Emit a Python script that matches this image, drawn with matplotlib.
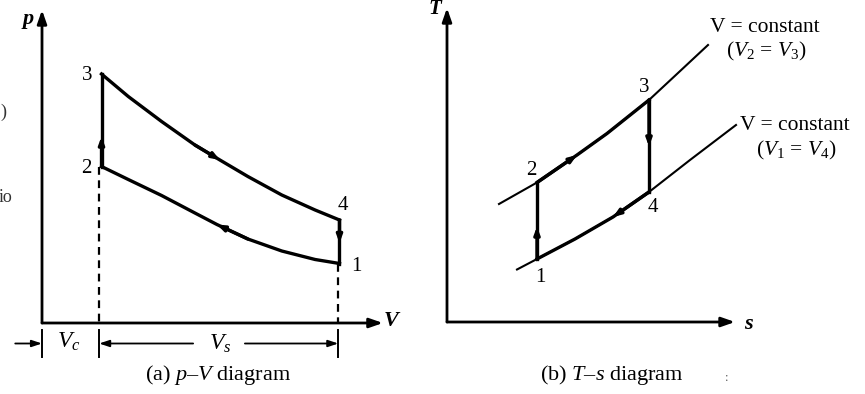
import matplotlib
matplotlib.use("Agg")
import matplotlib.pyplot as plt

plt.rcParams['font.family'] = ['Liberation Serif', 'DejaVu Serif']
plt.rcParams['mathtext.fontset'] = 'custom'
plt.rcParams['mathtext.rm'] = 'Liberation Serif'
plt.rcParams['mathtext.it'] = 'Liberation Serif:italic'
plt.rcParams['mathtext.bf'] = 'Liberation Serif:bold'

# p-V diagram (arbitrary units)
V_exp = [1.0, 1.45, 2.01, 2.57, 2.99, 3.46, 4.03, 4.59, 5.0]      # 3 -> 4
p_exp = [4.98, 4.53, 4.03, 3.56, 3.26, 2.93, 2.56, 2.26, 2.06]
V_comp = [5.0, 4.59, 4.03, 3.46, 2.94, 2.57, 2.01, 1.45, 1.0]     # 1 -> 2
p_comp = [1.19, 1.27, 1.44, 1.68, 1.97, 2.20, 2.55, 2.87, 3.13]
pv_labels = ['1', '2', '3', '4']

# T-s diagram, the two constant volume lines
s_v23 = [1.04, 1.80, 2.60, 3.20, 4.04, 4.62, 5.22]
T_v23 = [2.36, 2.79, 3.34, 3.77, 4.44, 4.98, 5.54]
s_v14 = [1.40, 1.80, 2.56, 3.32, 4.04, 4.86, 5.78]
T_v14 = [1.05, 1.26, 1.66, 2.10, 2.60, 3.24, 3.94]

# where the little arrows sit on the vertical strokes
p_arrow_23 = 3.73
p_arrow_41 = 1.60
T_arrow_12 = 1.91
T_arrow_34 = 3.51

LW = 2.4
k = 'black'

fig = plt.figure(figsize=(8.65, 3.94), dpi=100)
ax1 = fig.add_axes([0, 0, 420 / 865, 1])
ax2 = fig.add_axes([420 / 865, 0, 445 / 865, 1])
ax1.set_xlim(-0.706, 6.353)
ax1.set_ylim(-1.42, 6.46)
ax2.set_xlim(-0.54, 8.36)
ax2.set_ylim(-1.44, 6.44)
for ax in (ax1, ax2):
    ax.axis('off')


def arrow(ax, start, end, size=0.35, width=0.13, ms=12, lw=LW):
    ax.annotate('', xy=end, xytext=start,
                arrowprops=dict(arrowstyle='-|>,head_length=%s,head_width=%s' % (size, width),
                                color=k, lw=lw, shrinkA=0, shrinkB=0,
                                mutation_scale=ms))


# ---------------- p-V ----------------
arrow(ax1, (0, 0), (0, 6.26), 0.8, 0.28, 10, 2.0)
arrow(ax1, (0, 0), (5.73, 0), 0.8, 0.28, 10, 2.0)

ax1.plot(V_exp, p_exp, color=k, lw=LW, solid_joinstyle='round')
ax1.plot(V_comp, p_comp, color=k, lw=LW, solid_joinstyle='round')
ax1.plot([V_comp[-1], V_exp[0]], [p_comp[-1], p_exp[0]], color=k, lw=LW)
ax1.plot([V_exp[-1], V_comp[0]], [p_exp[-1], p_comp[0]], color=k, lw=LW)

arrow(ax1, (V_exp[3], p_exp[3]), (V_exp[4], p_exp[4]))
arrow(ax1, (V_comp[3], p_comp[3]), (V_comp[4], p_comp[4]))
arrow(ax1, (V_comp[-1], p_comp[-1]), (V_comp[-1], p_arrow_23))
arrow(ax1, (V_exp[-1], p_exp[-1]), (V_exp[-1], p_arrow_41))

# dashed drops to the axis
ax1.plot([V_comp[-1] - 0.04] * 2, [p_comp[-1], 0], color=k, lw=1.6, ls=(0, (3.5, 2.5)))
ax1.plot([V_comp[0] - 0.02] * 2, [p_comp[0], 0], color=k, lw=1.6, ls=(0, (3.5, 2.5)))

# dimension lines Vc and Vs
dim_y = -0.41
for v in (0, V_comp[-1] - 0.04, V_comp[0] - 0.02):
    ax1.plot([v, v], [-0.14, -0.68], color=k, lw=1.4)
arrow(ax1, (-0.45, dim_y), (0, dim_y), 0.6, 0.2, 10, 1.3)
arrow(ax1, (2.54, dim_y), (V_comp[-1] - 0.04, dim_y), 0.6, 0.2, 10, 1.3)
arrow(ax1, (3.41, dim_y), (V_comp[0] - 0.02, dim_y), 0.6, 0.2, 10, 1.3)
ax1.text(0.45, -0.38, r'$V_c$', fontsize=17, ha='center', va='center')
ax1.text(3.0, -0.42, r'$V_s$', fontsize=17, ha='center', va='center')

ax1.text(-0.235, 6.08, 'p', fontsize=16, style='italic', fontweight='bold',
         ha='center', va='center')
ax1.text(5.87, 0.04, 'V', fontsize=16, style='italic', fontweight='bold',
         ha='center', va='center')

pv_states = {'1': (V_comp[0], p_comp[0]), '2': (V_comp[-1], p_comp[-1]),
             '3': (V_exp[0], p_exp[0]), '4': (V_exp[-1], p_exp[-1])}
pv_offsets = {'1': (17, -3), '2': (-15, -2), '3': (-14, -2), '4': (3, 15)}
for lab in pv_labels:
    ax1.annotate(lab, xy=pv_states[lab], xytext=pv_offsets[lab],
                 textcoords='offset pixels', fontsize=15, ha='center', va='center')

ax1.text(2.96, -1.04, r'(a) $p$–$V$ diagram', fontsize=16, ha='center', va='center')
ax1.text(-0.70, 4.22, ')', fontsize=13, ha='left', va='center', color='#333333')
ax1.text(-0.72, 2.5, 'io', fontsize=13, ha='left', va='center', color='#333333')

# ---------------- T-s ----------------
arrow(ax2, (0, 0), (0, 6.28), 0.8, 0.28, 10, 2.0)
arrow(ax2, (0, 0), (5.76, 0), 0.8, 0.28, 10, 2.0)

ax2.plot(s_v23, T_v23, color=k, lw=1.5)
ax2.plot(s_v14, T_v14, color=k, lw=1.5)
ax2.plot(s_v23[1:5], T_v23[1:5], color=k, lw=LW, solid_joinstyle='round')
ax2.plot(s_v14[1:5], T_v14[1:5], color=k, lw=LW, solid_joinstyle='round')
ax2.plot([s_v14[1], s_v23[1]], [T_v14[1], T_v23[1]], color=k, lw=LW)
ax2.plot([s_v23[4], s_v14[4]], [T_v23[4], T_v14[4]], color=k, lw=LW)

arrow(ax2, (s_v23[1], T_v23[1]), (s_v23[2], T_v23[2]))
arrow(ax2, (s_v14[4], T_v14[4]), (s_v14[3], T_v14[3]))
arrow(ax2, (s_v14[1], T_v14[1]), (s_v14[1], T_arrow_12))
arrow(ax2, (s_v23[4], T_v23[4]), (s_v23[4], T_arrow_34))

ts_states = {'1': (s_v14[1], T_v14[1]), '2': (s_v23[1], T_v23[1]),
             '3': (s_v23[4], T_v23[4]), '4': (s_v14[4], T_v14[4])}
ts_offsets = {'1': (3, -19), '2': (-6, 12), '3': (-5, 13), '4': (4, -16)}
for lab in pv_labels:
    ax2.annotate(lab, xy=ts_states[lab], xytext=ts_offsets[lab],
                 textcoords='offset pixels', fontsize=15, ha='center', va='center')

ax2.text(-0.24, 6.26, 'T', fontsize=15, style='italic', fontweight='bold',
         ha='center', va='center')
ax2.text(6.02, -0.04, 's', fontsize=16, style='italic', fontweight='bold',
         ha='center', va='center')

ax2.text(6.36, 5.9, 'V = constant', fontsize=15.5, ha='center', va='center')
ax2.text(6.38, 5.42, r'($V_2$ = $V_3$)', fontsize=15.5, ha='center', va='center')
ax2.text(6.96, 3.94, 'V = constant', fontsize=15.5, ha='center', va='center')
ax2.text(6.98, 3.44, r'($V_1$ = $V_4$)', fontsize=15.5, ha='center', va='center')

ax2.text(3.3, -1.06, r'(b) $T$–$s$ diagram', fontsize=16, ha='center', va='center')
ax2.text(5.6, -1.12, ':', fontsize=9, ha='center', va='center', color='#555555')

fig.savefig('out.png', dpi=100)
